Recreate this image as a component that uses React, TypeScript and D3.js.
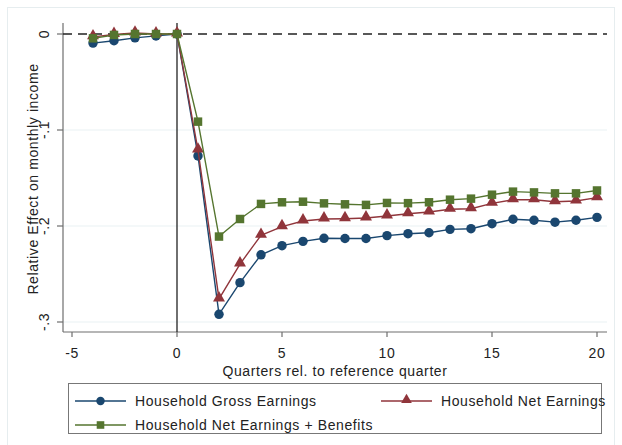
import React, { useEffect, useRef } from 'react';
import * as d3 from 'd3';

const quarters = [-4, -3, -2, -1, 0, 1, 2, 3, 4, 5, 6, 7, 8, 9, 10, 11, 12, 13, 14, 15, 16, 17, 18, 19, 20];

const grossEarnings = [
  -0.0095, -0.007, -0.004, -0.002, 0, -0.127, -0.292, -0.259, -0.230, -0.2205, -0.216, -0.2128, -0.213,
  -0.213, -0.210, -0.208, -0.207, -0.2035, -0.2028, -0.1976, -0.193, -0.194, -0.196, -0.194, -0.191,
];
const netEarnings = [
  -0.003, -0.0005, 0.001, 0, 0, -0.121, -0.276, -0.2396, -0.2097, -0.2007, -0.1948, -0.1927, -0.1924,
  -0.1917, -0.1896, -0.1873, -0.1854, -0.1826, -0.182, -0.1764, -0.1726, -0.1726, -0.1747, -0.174, -0.1705,
];
const netPlusBenefits = [
  -0.0045, -0.001, 0, 0, 0, -0.0913, -0.211, -0.1927, -0.177, -0.1753, -0.1747, -0.1764, -0.1774,
  -0.178, -0.176, -0.1762, -0.1753, -0.1726, -0.1715, -0.1674, -0.1642, -0.165, -0.166, -0.166, -0.163,
];

const seriesNames = ['Household Gross Earnings', 'Household Net Earnings', 'Household Net Earnings + Benefits'];
const seriesColors = ['#1a476f', '#90353b', '#55752f'];
const seriesSymbols = [d3.symbolCircle, d3.symbolTriangle, d3.symbolSquare];
const symbolSizes = [70, 62, 72];

const xTicks = [-5, 0, 5, 10, 15, 20];
const yTicks = [0, -0.1, -0.2, -0.3];
const yTickLabels = ['0', '-.1', '-.2', '-.3'];

const W = 622;
const H = 445;
const font = '"Liberation Sans", Arial, sans-serif';

const App = () => {
  const ref = useRef<SVGSVGElement | null>(null);

  useEffect(() => {
    const svg = d3.select(ref.current);
    svg.selectAll('*').remove();

    const left = 63, right = 607, top = 23, bottom = 332;
    const x = d3.scaleLinear().domain([-5, 20]).range([72, 597]);
    const y = d3.scaleLinear().domain([0, -0.3]).range([34, 322]);

    const label = (sel) => sel
      .attr('font-family', font).attr('font-size', 14).attr('letter-spacing', 0.6).attr('fill', '#222');

    // outer frame
    svg.append('rect')
      .attr('x', 7.5).attr('y', 7.5).attr('width', 607).attr('height', 450)
      .attr('fill', 'white').attr('stroke', '#e6edef').attr('stroke-width', 1);

    // gridlines
    svg.append('g').selectAll('line')
      .data(yTicks.slice(1))
      .enter().append('line')
      .attr('x1', left).attr('x2', right)
      .attr('y1', (d) => y(d)).attr('y2', (d) => y(d))
      .attr('stroke', '#eaf2f3').attr('stroke-width', 1.2);

    // axes
    svg.append('line').attr('x1', left).attr('x2', left).attr('y1', top).attr('y2', bottom)
      .attr('stroke', '#6e6e6e').attr('stroke-width', 1.2);
    svg.append('line').attr('x1', left).attr('x2', right).attr('y1', bottom).attr('y2', bottom)
      .attr('stroke', '#6e6e6e').attr('stroke-width', 1.2);

    const xt = svg.append('g').selectAll('g').data(xTicks).enter().append('g');
    xt.append('line').attr('x1', (d) => x(d)).attr('x2', (d) => x(d)).attr('y1', bottom).attr('y2', bottom + 5)
      .attr('stroke', '#6e6e6e').attr('stroke-width', 1.2);
    xt.append('text').attr('x', (d) => x(d)).attr('y', 358).attr('text-anchor', 'middle')
      .call(label).text((d) => String(d));

    const yt = svg.append('g').selectAll('g').data(yTicks).enter().append('g');
    yt.append('line').attr('x1', left - 6).attr('x2', left).attr('y1', (d) => y(d)).attr('y2', (d) => y(d))
      .attr('stroke', '#6e6e6e').attr('stroke-width', 1.2);
    yt.append('text')
      .attr('transform', (d) => `translate(49, ${y(d)}) rotate(-90)`)
      .attr('text-anchor', 'middle')
      .call(label)
      .text((d, i) => yTickLabels[i]);

    svg.append('text')
      .attr('transform', `translate(38, 179) rotate(-90)`)
      .attr('text-anchor', 'middle')
      .call(label)
      .text('Relative Effect on monthly income');
    svg.append('text')
      .attr('x', (left + right) / 2).attr('y', 376).attr('text-anchor', 'middle')
      .call(label)
      .text('Quarters rel. to reference quarter');

    // reference lines
    svg.append('line').attr('x1', left).attr('x2', right).attr('y1', y(0)).attr('y2', y(0))
      .attr('stroke', '#222').attr('stroke-width', 1.3).attr('stroke-dasharray', '9,6');
    svg.append('line').attr('x1', x(0)).attr('x2', x(0)).attr('y1', top).attr('y2', bottom)
      .attr('stroke', '#222').attr('stroke-width', 1.3);

    const allSeries = [grossEarnings, netEarnings, netPlusBenefits];
    const line = d3.line<number>().x((d, i) => x(quarters[i])).y((d) => y(d));

    allSeries.forEach((vals, s) => {
      svg.append('path').attr('d', line(vals)).attr('fill', 'none')
        .attr('stroke', seriesColors[s]).attr('stroke-width', 1.4);
      const sym = d3.symbol().type(seriesSymbols[s]).size(symbolSizes[s]);
      svg.append('g').selectAll('path').data(vals).enter().append('path')
        .attr('transform', (d, i) => `translate(${x(quarters[i])}, ${y(d) + (s === 1 ? -1 : 0)})`)
        .attr('d', sym)
        .attr('fill', seriesColors[s]);
    });

    // legend
    svg.append('rect').attr('x', 68.5).attr('y', 383.5).attr('width', 533).attr('height', 50)
      .attr('fill', 'white').attr('stroke', '#777').attr('stroke-width', 1);
    const legendPos = [
      { kx: 75, ty: 401 },
      { kx: 381, ty: 401 },
      { kx: 75, ty: 425 },
    ];
    legendPos.forEach((p, s) => {
      svg.append('line').attr('x1', p.kx).attr('x2', p.kx + 51).attr('y1', p.ty).attr('y2', p.ty)
        .attr('stroke', seriesColors[s]).attr('stroke-width', 1.4);
      svg.append('path')
        .attr('transform', `translate(${p.kx + 25.5}, ${p.ty + (s === 1 ? -1 : 0)})`)
        .attr('d', d3.symbol().type(seriesSymbols[s]).size(symbolSizes[s] * 0.8)())
        .attr('fill', seriesColors[s]);
      svg.append('text').attr('x', p.kx + 60).attr('y', p.ty + 5)
        .call(label)
        .text(seriesNames[s]);
    });
  }, []);

  return <svg ref={ref} width={W} height={H} style={{ position: 'absolute', left: 0, top: 0, background: 'white' }} />;
};

export default App;
